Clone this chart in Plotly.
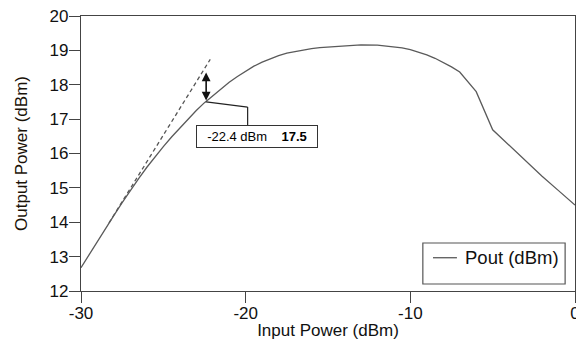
import plotly.graph_objects as go

# Data
pin = [-30, -29.5, -29, -28.5, -28, -27.5, -27, -26.5, -26, -25.5, -25, -24.5, -24,
       -23.5, -23, -22.5, -22, -21.5, -21, -20.5, -20, -19.5, -19, -18.5, -18, -17.5,
       -17, -16.5, -16, -15.5, -15, -14.5, -14, -13, -12, -11, -10.5, -10, -9.5, -9,
       -8.5, -8, -7.5, -7, -6, -5, -4, -3, -2, -1, 0]
pout = [12.68, 13.07, 13.45, 13.83, 14.20, 14.57, 14.93, 15.27, 15.60, 15.91, 16.20,
        16.48, 16.74, 17.00, 17.25, 17.48, 17.68, 17.88, 18.07, 18.24, 18.40, 18.54,
        18.66, 18.76, 18.85, 18.92, 18.97, 19.02, 19.05, 19.08, 19.10, 19.12, 19.14,
        19.16, 19.15, 19.11, 19.07, 19.02, 18.95, 18.87, 18.77, 18.65, 18.52, 18.37,
        17.80, 16.69, 16.23, 15.78, 15.34, 14.92, 14.50]
lin_x = [-28.3, -22.15]
lin_y = [13.98, 18.74]
p1db_x = -22.4
p1db_y = 17.5
p1db_lin = 18.36
xticks = [-30, -20, -10, 0]
xtick_text = ["-30", "-20", "-10", "0"]
yticks = [12, 13, 14, 15, 16, 17, 18, 19, 20]
legend_label = "Pout (dBm)"

FONT = "Liberation Sans, Arial, sans-serif"
AX = "#444444"
TXT = "#111111"

fig = go.Figure()
fig.add_trace(go.Scatter(x=lin_x, y=lin_y, mode="lines", showlegend=False,
                         line=dict(color="#555555", width=1.3, dash="4px,3px")))
fig.add_trace(go.Scatter(x=pin, y=pout, mode="lines", name=legend_label, showlegend=False,
                         line=dict(color="#5a5a5a", width=1.3)))

# double arrow
fig.add_annotation(x=p1db_x, y=p1db_lin, ax=p1db_x, ay=p1db_y, xref="x", yref="y",
                   axref="x", ayref="y", text="", showarrow=True,
                   arrowhead=2, startarrowhead=2, arrowside="end+start",
                   arrowsize=1.1, arrowwidth=1.6, arrowcolor="#111111")
# callout leader
fig.add_shape(type="line", x0=p1db_x, y0=p1db_y, x1=-19.88, y1=17.35,
              line=dict(color="#222222", width=1.2))
fig.add_shape(type="line", x0=-19.88, y0=17.35, x1=-19.88, y1=16.8,
              line=dict(color="#222222", width=1.2))
fig.add_annotation(x=-19.33, y=16.49, xref="x", yref="y", showarrow=False,
                   text=f"{p1db_x} dBm    <b>{p1db_y}</b>",
                   font=dict(family=FONT, size=13, color="#000000"),
                   bordercolor="#333333", borderwidth=1, borderpad=2,
                   bgcolor="white", width=116, height=17)

# legend box (drawn)
fig.add_shape(type="rect", xref="paper", yref="paper", x0=0.692, x1=0.980,
              y0=0.0255, y1=0.1745, line=dict(color="#555555", width=1.2),
              fillcolor="white")
fig.add_shape(type="line", xref="paper", yref="paper", x0=0.7125, x1=0.761,
              y0=0.121, y1=0.121, line=dict(color="#5a5a5a", width=1.3))
fig.add_annotation(xref="paper", yref="paper", x=0.773, y=0.121, xanchor="left",
                   yanchor="middle", showarrow=False, text=legend_label,
                   font=dict(family=FONT, size=18.5, color=TXT))

fig.update_layout(
    width=576, height=340,
    margin=dict(l=81, r=1, t=16, b=49, autoexpand=False),
    paper_bgcolor="white", plot_bgcolor="white",
    font=dict(family=FONT, size=17, color=TXT),
    showlegend=False,
    xaxis=dict(range=[-30, 0], tickvals=xticks, ticktext=xtick_text, ticks="outside",
               ticklen=11, tickcolor=AX, showline=True, linecolor=AX, linewidth=1.2,
               mirror=True, showgrid=False, zeroline=False, ticklabeloverflow="allow",
               automargin=False, ticklabelstandoff=-5,
               tickfont=dict(family=FONT, size=17, color=TXT),
               title=dict(text="Input Power (dBm)", standoff=5,
                          font=dict(family=FONT, size=17, color=TXT))),
    yaxis=dict(range=[12, 20], tickvals=yticks, ticks="outside", ticklen=11,
               tickcolor=AX, showline=True, linecolor=AX, linewidth=1.2, mirror=True,
               showgrid=False, zeroline=False, automargin=False, ticklabelstandoff=-3,
               tickfont=dict(family=FONT, size=17, color=TXT),
               title=dict(text="Output Power (dBm)", standoff=17,
                          font=dict(family=FONT, size=17, color="#1a1208"))),
)

fig.write_html("out.html")
